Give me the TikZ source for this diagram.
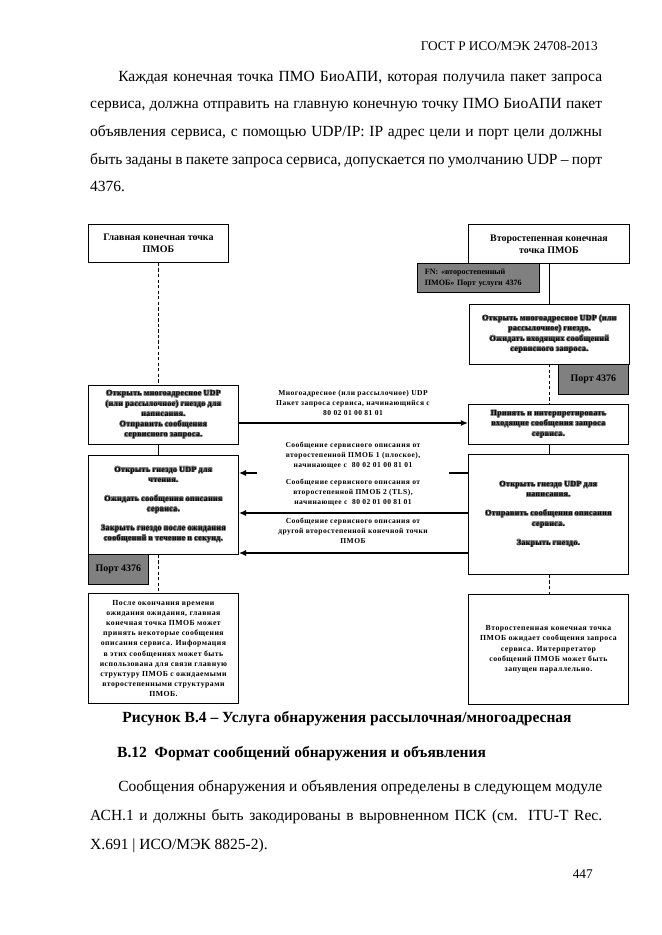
\documentclass[tikz,border=0pt]{standalone}
\usepackage{fontspec}
\setmainfont{Liberation Serif}
\newfontfamily\diafont[LetterSpace=6]{Liberation Serif}
\usepackage{contour}
\contourlength{0.55pt}
\usetikzlibrary{arrows.meta,positioning}
\definecolor{boxgray}{HTML}{808080}
\def\pxu{0.03172cm}
\newcommand\glo[1]{\contour{black!50}{#1}}

\begin{document}
\begin{tikzpicture}[
    x=0.03172cm, y=-0.03172cm,
    >={Latex[length=2.3mm,width=2mm]},
    every node/.style={inner sep=0pt},
    page/.style={font=\fontsize{14}{25}\selectfont},
    sz/.style n args={2}{minimum width=#1*\pxu, minimum height=#2*\pxu},
    box/.style={draw, line width=0.8pt, anchor=north west, align=center,
                font=\diafont\bfseries\fontsize{7}{9.2}\selectfont},
    headbox/.style={box, font=\bfseries\fontsize{9}{11}\selectfont},
    graybox/.style={box, fill=boxgray, font=\bfseries\fontsize{9}{11}\selectfont},
    msg/.style={align=center, font=\diafont\bfseries\fontsize{6.8}{9}\selectfont},
    arrow/.style={->, line width=1.5pt},
    life/.style={line width=0.7pt, dash pattern=on 3pt off 2pt},
    link/.style={line width=0.7pt}
]
    \fill[white] (0,0) rectangle (662,935);
    \useasboundingbox (0,0) rectangle (662,935);

    % === PAGE TEXT ===
    \node[anchor=base east, font=\fontsize{12}{14}\selectfont] (gost) at (598,51) {ГОСТ Р ИСО/МЭК 24708-2013};

    \node[page, anchor=base west, text width=16.24cm, align=justify] (para1) at (90,81) {%
        \hspace*{0.89cm}Каждая конечная точка ПМО БиоАПИ, которая получила пакет запроса\linebreak
        сервиса, должна отправить на главную конечную точку ПМО БиоАПИ пакет\linebreak
        объявления сервиса, с помощью UDP/IP: IP адрес цели и порт цели должны\linebreak
        быть заданы в пакете запроса сервиса, допускается по умолчанию UDP – порт\linebreak
        4376.};

    % === ENDPOINT HEADERS ===
    \node[headbox, sz={140}{38}] (main) at (88,224) {Главная конечная точка\\ПМОБ};
    \node[headbox, sz={161}{39}] (sec) at (468,224) {Второстепенная конечная\\точка ПМОБ};
    \node[graybox, sz={122}{29}, align=left, text width=3.4cm, inner xsep=0.23cm,
          font=\bfseries\fontsize{7.3}{9.5}\selectfont] (fn) at (417,263)
        {FN: «второстепенный\\ПМОБ» Порт услуги 4376};

    % === MAIN ENDPOINT (LEFT) ===
    \node[box, sz={150}{59}] (lopen) at (88,385) {%
        \glo{Открыть многоадресное UDP}\\\glo{(или рассылочное) гнездо для}\\
        \glo{написания.}\\\glo{Отправить сообщения}\\\glo{сервисного запроса.}};
    \node[box, sz={150}{99}] (lread) at (88,455) {%
        \glo{Открыть гнездо UDP для}\\\glo{чтения.}\\[8pt]
        \glo{Ожидать сообщения описания}\\\glo{сервиса.}\\[8pt]
        \glo{Закрыть гнездо после ожидания}\\\glo{сообщений в течение n секунд.}};
    \node[graybox, sz={60}{30}] (lport) at (88,554) {Порт 4376};
    \node[box, sz={150}{110}] (lnote) at (88,593) {%
        После окончания времени\\ожидания ожидания, главная\\конечная точка ПМОБ может\\
        принять некоторые сообщения\\описания сервиса. Информация\\в этих сообщениях может быть\\
        использована для связи главную\\структуру ПМОБ с ожидаемыми\\второстепенными структурами\\ПМОБ.};

    % === SECONDARY ENDPOINT (RIGHT) ===
    \node[box, sz={160}{60}] (ropen) at (469,304) {%
        \glo{Открыть многоадресное UDP (или}\\\glo{рассылочное) гнездо.}\\
        \glo{Ожидать входящих сообщений}\\\glo{сервисного запроса.}};
    \node[graybox, sz={70}{30}] (rport) at (558,364) {Порт 4376};
    \node[box, sz={160}{40}] (raccept) at (468,404) {%
        \glo{Принять и интерпретировать}\\\glo{входящие сообщения запроса}\\\glo{сервиса.}};
    \node[box, sz={160}{120}] (rsend) at (468,454) {%
        \glo{Открыть гнездо UDP для}\\\glo{написания.}\\[8pt]
        \glo{Отправить сообщения описания}\\\glo{сервиса.}\\[8pt]
        \glo{Закрыть гнездо.}};
    \node[box, sz={160}{110}] (rnote) at (468,594) {%
        Второстепенная конечная точка\\ПМОБ ожидает сообщения запроса\\сервиса. Интерпретатор\\
        сообщений ПМОБ может быть\\запущен параллельно.};

    % === LIFELINES ===
    \draw[life] (main.south) -- (main.south |- lopen.north);
    \draw[link] (main.south |- lopen.south) -- (main.south |- lread.north);
    \draw[life] (main.south |- lread.south) -- (main.south |- lnote.north);

    \draw[link] (sec.south) -- (sec.south |- ropen.north);
    \draw[life] (sec.south |- rport.north) -- (sec.south |- raccept.north);
    \draw[link] (sec.south |- raccept.south) -- (sec.south |- rsend.north);
    \draw[life] (sec.south |- rsend.south) -- (sec.south |- rnote.north);

    % === MESSAGES ===
    \coordinate (y1) at (0,423);
    \coordinate (y2) at (0,473);
    \coordinate (y3) at (0,513);
    \coordinate (y4) at (0,553);

    \draw[arrow] (lopen.east |- y1) -- (raccept.west |- y1);
    \draw[arrow] (rsend.west |- y2) -- (lread.east |- y2);
    \draw[arrow] (rsend.west |- y3) -- (lread.east |- y3);
    \draw[arrow] (rsend.west |- y4) -- (lread.east |- y4);

    \node[msg] (m1) at (353,403) {Многоадресное (или рассылочное) UDP\\Пакет запроса сервиса, начинающийся с\\80 02 01 00 81 01};
    \node[msg, fill=white, text width=6.06cm, minimum height=1.4cm] (m2) at (353,455)
        {Сообщение сервисного описания от\\второстепенной ПМОБ 1 (плоское),\\начинающее с~ 80 02 01 00 81 01};
    \node[msg] (m3) at (353,492) {Сообщение сервисного описания от\\второстепенной ПМОБ 2 (TLS),\\начинающее с~ 80 02 01 00 81 01};
    \node[msg] (m4) at (353,531) {Сообщение сервисного описания от\\другой второстепенной конечной точки\\ПМОБ};

    % === CAPTION AND FOLLOWING TEXT ===
    \node[anchor=base, font=\bfseries\fontsize{14}{17}\selectfont] (cap) at (347,722)
        {Рисунок В.4 – Услуга обнаружения рассылочная/многоадресная};
    \node[anchor=base west, font=\bfseries\fontsize{14}{17}\selectfont] (sect) at (117,757)
        {В.12~ Формат сообщений обнаружения и объявления};
    \node[page, anchor=base west, text width=16.24cm, align=justify,
          font=\fontsize{14}{26.5}\selectfont] (para2) at (90,791) {%
        \hspace*{0.89cm}Сообщения обнаружения и объявления определены в следующем модуле\linebreak
        АСН.1 и должны быть закодированы в выровненном ПСК (см. ITU-T Rec.\linebreak
        Х.691 | ИСО/МЭК 8825-2).};
    \node[anchor=base east, font=\fontsize{12}{14}\selectfont] (pnum) at (593,878) {447};
\end{tikzpicture}
\end{document}
